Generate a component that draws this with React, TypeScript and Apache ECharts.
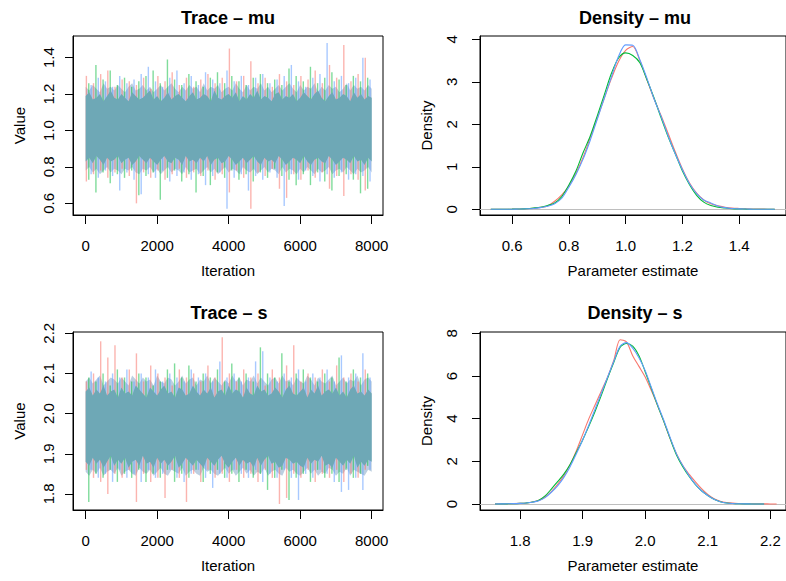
import React, { useEffect, useRef } from 'react';
import * as echarts from 'echarts';

const FONT = '"Liberation Sans", Arial, Helvetica, sans-serif';
const RED = '#F8766D';
const GREEN = '#00BA38';
const BLUE = '#619CFF';
const CHAIN_ALPHA = ['rgba(248,118,109,0.55)', 'rgba(0,186,56,0.5)', 'rgba(97,156,255,0.55)'];
const CORE_COLOR = '#6EA8B6';
const FRINGE_COLOR = 'rgba(122,160,196,0.5)';

// tick labels
const ITER_TICKS = [0, 2000, 4000, 6000, 8000];
const MU_TRACE_TICKS = [0.6, 0.8, 1.0, 1.2, 1.4];
const S_TRACE_TICKS = [1.8, 1.9, 2.0, 2.1, 2.2];
const MU_DENS_X_TICKS = [0.6, 0.8, 1.0, 1.2, 1.4];
const MU_DENS_Y_TICKS = [0, 1, 2, 3, 4];
const S_DENS_X_TICKS = [1.8, 1.9, 2.0, 2.1, 2.2];
const S_DENS_Y_TICKS = [0, 2, 4, 6, 8];

// trace plots: per-chain extremes within each 200-iteration bin
const TRACE_BINS = [0, 200, 400, 600, 800, 1000, 1200, 1400, 1600, 1800, 2000, 2200, 2400, 2600, 2800, 3000, 3200, 3400, 3600, 3800,
  4000, 4200, 4400, 4600, 4800, 5000, 5200, 5400, 5600, 5800, 6000, 6200, 6400, 6600, 6800, 7000, 7200, 7400, 7600, 7800];
const CHAIN_OFFSETS = [20, 87, 153];

const muRedHi = [1.30, 1.26, 1.31, 1.33, 1.24, 1.28, 1.27, 1.25, 1.29, 1.23, 1.30, 1.27, 1.32, 1.25, 1.29, 1.24, 1.28, 1.31, 1.26, 1.29,
  1.45, 1.27, 1.30, 1.38, 1.26, 1.29, 1.24, 1.31, 1.27, 1.25, 1.30, 1.28, 1.33, 1.26, 1.36, 1.29, 1.47, 1.27, 1.31, 1.40];
const muRedLo = [0.72, 0.76, 0.78, 0.74, 0.77, 0.79, 0.75, 0.60, 0.77, 0.74, 0.78, 0.73, 0.76, 0.79, 0.74, 0.77, 0.75, 0.78, 0.73, 0.76,
  0.66, 0.78, 0.74, 0.57, 0.77, 0.75, 0.79, 0.68, 0.63, 0.76, 0.73, 0.78, 0.74, 0.77, 0.68, 0.75, 0.64, 0.76, 0.73, 0.67];
const muGreenHi = [1.26, 1.36, 1.28, 1.33, 1.25, 1.29, 1.24, 1.27, 1.30, 1.33, 1.26, 1.39, 1.28, 1.25, 1.31, 1.27, 1.24, 1.29, 1.32, 1.26,
  1.30, 1.27, 1.25, 1.29, 1.31, 1.26, 1.28, 1.25, 1.34, 1.30, 1.27, 1.35, 1.26, 1.29, 1.32, 1.28, 1.25, 1.30, 1.27, 1.29];
const muGreenLo = [0.73, 0.66, 0.77, 0.71, 0.76, 0.74, 0.78, 0.645, 0.75, 0.77, 0.62, 0.74, 0.78, 0.72, 0.76, 0.66, 0.75, 0.70, 0.77, 0.74,
  0.78, 0.73, 0.76, 0.72, 0.77, 0.74, 0.79, 0.75, 0.73, 0.70, 0.76, 0.70, 0.77, 0.72, 0.67, 0.75, 0.76, 0.73, 0.655, 0.68];
const muBlueHi = [1.25, 1.29, 1.27, 1.24, 1.30, 1.26, 1.28, 1.31, 1.35, 1.27, 1.24, 1.29, 1.33, 1.26, 1.30, 1.25, 1.32, 1.28, 1.26, 1.33,
  1.27, 1.30, 1.25, 1.29, 1.31, 1.26, 1.28, 1.30, 1.36, 1.27, 1.24, 1.29, 1.31, 1.48, 1.27, 1.30, 1.26, 1.29, 1.40, 1.28];
const muBlueLo = [0.76, 0.74, 0.78, 0.75, 0.67, 0.77, 0.73, 0.65, 0.76, 0.74, 0.78, 0.72, 0.75, 0.77, 0.73, 0.76, 0.70, 0.75, 0.77, 0.57,
  0.74, 0.76, 0.67, 0.75, 0.73, 0.77, 0.74, 0.585, 0.76, 0.73, 0.78, 0.75, 0.72, 0.76, 0.74, 0.77, 0.73, 0.76, 0.75, 0.72];

const sRedHi = [2.08, 2.10, 2.18, 2.14, 2.17, 2.09, 2.11, 2.15, 2.08, 2.12, 2.10, 2.09, 2.07, 2.11, 2.09, 2.10, 2.08, 2.12, 2.09, 2.19,
  2.10, 2.08, 2.11, 2.09, 2.10, 2.07, 2.11, 2.09, 2.12, 2.17, 2.08, 2.10, 2.09, 2.11, 2.08, 2.12, 2.09, 2.10, 2.08, 2.11];
const sRedLo = [1.86, 1.84, 1.83, 1.80, 1.85, 1.84, 1.86, 1.78, 1.85, 1.83, 1.84, 1.79, 1.86, 1.84, 1.78, 1.85, 1.83, 1.86, 1.84, 1.85,
  1.83, 1.86, 1.84, 1.85, 1.83, 1.86, 1.84, 1.775, 1.79, 1.85, 1.84, 1.86, 1.83, 1.85, 1.84, 1.86, 1.83, 1.85, 1.84, 1.86];
const sGreenHi = [2.09, 2.08, 2.10, 2.07, 2.11, 2.09, 2.08, 2.10, 2.09, 2.07, 2.08, 2.11, 2.125, 2.09, 2.12, 2.08, 2.10, 2.09, 2.11, 2.08,
  2.125, 2.09, 2.10, 2.08, 2.165, 2.10, 2.09, 2.15, 2.08, 2.10, 2.11, 2.09, 2.08, 2.10, 2.09, 2.14, 2.08, 2.11, 2.09, 2.10];
const sGreenLo = [1.78, 1.85, 1.84, 1.86, 1.83, 1.85, 1.84, 1.86, 1.83, 1.85, 1.84, 1.86, 1.83, 1.85, 1.84, 1.86, 1.83, 1.85, 1.86, 1.84,
  1.85, 1.83, 1.86, 1.84, 1.85, 1.81, 1.84, 1.86, 1.785, 1.84, 1.85, 1.83, 1.86, 1.84, 1.85, 1.83, 1.86, 1.84, 1.85, 1.87];
const sBlueHi = [2.105, 2.09, 2.08, 2.10, 2.09, 2.11, 2.08, 2.10, 2.09, 2.11, 2.08, 2.10, 2.09, 2.08, 2.11, 2.09, 2.10, 2.08, 2.13, 2.09,
  2.10, 2.08, 2.09, 2.13, 2.155, 2.09, 2.08, 2.10, 2.09, 2.11, 2.08, 2.10, 2.09, 2.11, 2.08, 2.145, 2.09, 2.10, 2.15, 2.09];
const sBlueLo = [1.86, 1.84, 1.85, 1.83, 1.86, 1.84, 1.85, 1.83, 1.86, 1.84, 1.85, 1.86, 1.84, 1.83, 1.85, 1.86, 1.84, 1.815, 1.85, 1.84,
  1.86, 1.85, 1.84, 1.86, 1.83, 1.85, 1.84, 1.86, 1.84, 1.785, 1.85, 1.84, 1.86, 1.85, 1.83, 1.805, 1.81, 1.84, 1.81, 1.86];

// dense, fully overlapped core of the traces and the mixed fringe around it (every 100 iterations)
const CORE_ITER = [0, 100, 200, 300, 400, 500, 600, 700, 800, 900, 1000, 1100, 1200, 1300, 1400, 1500, 1600, 1700, 1800, 1900,
  2000, 2100, 2200, 2300, 2400, 2500, 2600, 2700, 2800, 2900, 3000, 3100, 3200, 3300, 3400, 3500, 3600, 3700, 3800, 3900,
  4000, 4100, 4200, 4300, 4400, 4500, 4600, 4700, 4800, 4900, 5000, 5100, 5200, 5300, 5400, 5500, 5600, 5700, 5800, 5900,
  6000, 6100, 6200, 6300, 6400, 6500, 6600, 6700, 6800, 6900, 7000, 7100, 7200, 7300, 7400, 7500, 7600, 7700, 7800, 7900, 8000];
const muCoreHi = [1.19, 1.21, 1.17, 1.18, 1.20, 1.16, 1.19, 1.22, 1.18, 1.17, 1.20, 1.18, 1.16, 1.21, 1.19, 1.17, 1.18, 1.20, 1.22, 1.17,
  1.19, 1.16, 1.18, 1.21, 1.17, 1.19, 1.20, 1.18, 1.16, 1.19, 1.21, 1.17, 1.18, 1.20, 1.19, 1.16, 1.22, 1.18, 1.17, 1.19,
  1.20, 1.18, 1.21, 1.16, 1.19, 1.17, 1.20, 1.18, 1.22, 1.17, 1.19, 1.18, 1.16, 1.20, 1.21, 1.17, 1.19, 1.18, 1.20, 1.16,
  1.18, 1.21, 1.19, 1.17, 1.20, 1.22, 1.18, 1.16, 1.19, 1.21, 1.17, 1.18, 1.20, 1.19, 1.16, 1.21, 1.18, 1.20, 1.17, 1.19, 1.18];
const muCoreLo = [0.83, 0.85, 0.82, 0.86, 0.84, 0.81, 0.85, 0.83, 0.84, 0.86, 0.82, 0.84, 0.85, 0.81, 0.83, 0.86, 0.84, 0.82, 0.85, 0.83,
  0.81, 0.84, 0.86, 0.83, 0.82, 0.85, 0.84, 0.81, 0.86, 0.83, 0.84, 0.82, 0.85, 0.83, 0.86, 0.81, 0.84, 0.85, 0.82, 0.83,
  0.86, 0.84, 0.81, 0.83, 0.85, 0.82, 0.84, 0.86, 0.83, 0.81, 0.85, 0.83, 0.84, 0.82, 0.86, 0.84, 0.81, 0.83, 0.85, 0.84,
  0.82, 0.86, 0.83, 0.81, 0.84, 0.85, 0.83, 0.82, 0.86, 0.84, 0.81, 0.83, 0.85, 0.84, 0.82, 0.86, 0.83, 0.84, 0.81, 0.85, 0.83];
const muFringeHi = [1.24, 1.22, 1.25, 1.23, 1.21, 1.26, 1.23, 1.24, 1.22, 1.25, 1.23, 1.21, 1.24, 1.26, 1.22, 1.23, 1.25, 1.22, 1.24, 1.21,
  1.23, 1.25, 1.22, 1.24, 1.26, 1.23, 1.21, 1.24, 1.22, 1.25, 1.23, 1.24, 1.21, 1.26, 1.22, 1.24, 1.23, 1.25, 1.21, 1.23,
  1.24, 1.22, 1.26, 1.23, 1.21, 1.25, 1.22, 1.24, 1.23, 1.26, 1.22, 1.24, 1.21, 1.23, 1.25, 1.22, 1.24, 1.26, 1.23, 1.21,
  1.25, 1.22, 1.24, 1.23, 1.26, 1.21, 1.24, 1.22, 1.25, 1.23, 1.24, 1.21, 1.23, 1.26, 1.22, 1.25, 1.23, 1.24, 1.22, 1.25, 1.23];
const muFringeLo = [0.78, 0.80, 0.77, 0.79, 0.76, 0.78, 0.80, 0.77, 0.79, 0.78, 0.76, 0.79, 0.78, 0.80, 0.77, 0.76, 0.79, 0.78, 0.80, 0.77,
  0.79, 0.76, 0.78, 0.80, 0.77, 0.79, 0.78, 0.76, 0.80, 0.77, 0.78, 0.79, 0.76, 0.78, 0.80, 0.77, 0.79, 0.76, 0.78, 0.80,
  0.77, 0.79, 0.78, 0.76, 0.80, 0.78, 0.77, 0.79, 0.76, 0.78, 0.80, 0.77, 0.79, 0.78, 0.76, 0.80, 0.77, 0.79, 0.78, 0.76,
  0.79, 0.77, 0.80, 0.78, 0.76, 0.79, 0.77, 0.78, 0.80, 0.76, 0.78, 0.79, 0.77, 0.80, 0.78, 0.76, 0.79, 0.77, 0.78, 0.80, 0.77];
const sCoreHi = [2.055, 2.065, 2.045, 2.06, 2.05, 2.07, 2.045, 2.055, 2.06, 2.04, 2.065, 2.05, 2.055, 2.045, 2.07, 2.06, 2.05, 2.04, 2.065, 2.055,
  2.045, 2.06, 2.07, 2.05, 2.055, 2.04, 2.065, 2.06, 2.045, 2.05, 2.07, 2.055, 2.045, 2.06, 2.05, 2.065, 2.04, 2.055, 2.06, 2.045,
  2.07, 2.05, 2.06, 2.055, 2.04, 2.065, 2.05, 2.045, 2.07, 2.055, 2.06, 2.045, 2.05, 2.065, 2.055, 2.04, 2.06, 2.07, 2.05, 2.045,
  2.055, 2.065, 2.04, 2.06, 2.05, 2.07, 2.045, 2.055, 2.06, 2.05, 2.065, 2.045, 2.055, 2.04, 2.06, 2.07, 2.05, 2.055, 2.045, 2.06, 2.05];
const sCoreLo = [1.88, 1.87, 1.89, 1.875, 1.885, 1.865, 1.88, 1.895, 1.87, 1.885, 1.875, 1.89, 1.865, 1.88, 1.885, 1.87, 1.895, 1.875, 1.88, 1.865,
  1.89, 1.875, 1.885, 1.87, 1.88, 1.895, 1.865, 1.875, 1.89, 1.88, 1.87, 1.885, 1.875, 1.865, 1.89, 1.88, 1.87, 1.885, 1.895, 1.875,
  1.865, 1.88, 1.89, 1.87, 1.885, 1.875, 1.88, 1.865, 1.89, 1.87, 1.885, 1.895, 1.875, 1.88, 1.865, 1.87, 1.89, 1.885, 1.875, 1.88,
  1.87, 1.865, 1.89, 1.875, 1.885, 1.88, 1.895, 1.87, 1.875, 1.865, 1.89, 1.88, 1.87, 1.885, 1.875, 1.895, 1.865, 1.88, 1.87, 1.885, 1.88];
const sFringeHi = [2.08, 2.09, 2.075, 2.085, 2.095, 2.07, 2.08, 2.09, 2.085, 2.075, 2.09, 2.08, 2.07, 2.095, 2.085, 2.075, 2.09, 2.08, 2.085, 2.07,
  2.095, 2.08, 2.075, 2.09, 2.085, 2.07, 2.08, 2.095, 2.075, 2.085, 2.09, 2.07, 2.085, 2.08, 2.095, 2.075, 2.09, 2.08, 2.07, 2.085,
  2.075, 2.095, 2.08, 2.09, 2.07, 2.085, 2.08, 2.095, 2.075, 2.09, 2.08, 2.07, 2.085, 2.09, 2.075, 2.095, 2.08, 2.085, 2.07, 2.09,
  2.08, 2.075, 2.095, 2.085, 2.07, 2.09, 2.08, 2.075, 2.085, 2.095, 2.07, 2.08, 2.09, 2.075, 2.085, 2.08, 2.095, 2.07, 2.085, 2.09, 2.08];
const sFringeLo = [1.855, 1.845, 1.86, 1.85, 1.865, 1.845, 1.855, 1.86, 1.85, 1.865, 1.845, 1.855, 1.86, 1.85, 1.845, 1.865, 1.855, 1.85, 1.86, 1.845,
  1.855, 1.865, 1.85, 1.845, 1.86, 1.855, 1.85, 1.865, 1.845, 1.855, 1.86, 1.85, 1.845, 1.865, 1.855, 1.86, 1.85, 1.845, 1.855, 1.865,
  1.85, 1.86, 1.845, 1.855, 1.865, 1.85, 1.86, 1.845, 1.855, 1.85, 1.865, 1.845, 1.855, 1.86, 1.85, 1.845, 1.865, 1.855, 1.86, 1.85,
  1.845, 1.855, 1.865, 1.85, 1.86, 1.845, 1.855, 1.85, 1.865, 1.86, 1.845, 1.855, 1.85, 1.865, 1.845, 1.86, 1.855, 1.85, 1.845, 1.86, 1.855];

// density curves
const DENS_MU_X = [0.525, 0.55, 0.575, 0.6, 0.625, 0.65, 0.675, 0.7, 0.725, 0.75, 0.775, 0.8, 0.825, 0.85, 0.875, 0.9, 0.925, 0.95, 0.975, 1.0,
  1.025, 1.05, 1.075, 1.1, 1.125, 1.15, 1.175, 1.2, 1.225, 1.25, 1.275, 1.3, 1.325, 1.35, 1.375, 1.4, 1.425, 1.45, 1.475, 1.5, 1.525];
const densMuRed = [0, 0.001, 0.002, 0.004, 0.008, 0.014, 0.025, 0.045, 0.08, 0.19, 0.34, 0.55, 0.85, 1.22, 1.68, 2.14, 2.62, 3.08, 3.48, 3.74,
  3.83, 3.5, 3.05, 2.6, 2.2, 1.78, 1.35, 0.95, 0.62, 0.38, 0.22, 0.13, 0.08, 0.05, 0.03, 0.02, 0.012, 0.008, 0.005, 0.003, 0.002];
const densMuGreen = [0, 0.001, 0.002, 0.004, 0.008, 0.015, 0.03, 0.05, 0.09, 0.15, 0.3, 0.57, 0.9, 1.33, 1.72, 2.2, 2.7, 3.2, 3.56, 3.68,
  3.62, 3.45, 3.05, 2.62, 2.15, 1.7, 1.3, 0.9, 0.58, 0.33, 0.17, 0.09, 0.05, 0.03, 0.015, 0.008, 0.004, 0.002, 0.001, 0, 0];
const densMuBlue = [0, 0.001, 0.002, 0.003, 0.006, 0.012, 0.02, 0.04, 0.07, 0.13, 0.26, 0.52, 0.82, 1.18, 1.62, 2.12, 2.62, 3.12, 3.6, 3.87,
  3.86, 3.52, 3.08, 2.6, 2.18, 1.72, 1.3, 0.93, 0.6, 0.37, 0.22, 0.15, 0.08, 0.04, 0.02, 0.01, 0.006, 0.003, 0.002, 0.001, 0];

const DENS_S_X = [1.76, 1.77, 1.78, 1.79, 1.80, 1.81, 1.82, 1.83, 1.84, 1.85, 1.86, 1.87, 1.88, 1.89, 1.90, 1.91, 1.92, 1.93, 1.94, 1.95,
  1.96, 1.97, 1.98, 1.99, 2.00, 2.01, 2.02, 2.03, 2.04, 2.05, 2.06, 2.07, 2.08, 2.09, 2.10, 2.11, 2.12, 2.13, 2.14, 2.15,
  2.16, 2.17, 2.18, 2.19, 2.20, 2.21];
const densSRed = [0.005, 0.007, 0.01, 0.018, 0.03, 0.05, 0.09, 0.17, 0.33, 0.58, 0.92, 1.33, 1.85, 2.5, 3.25, 4.0, 4.65, 5.3, 5.95, 6.75,
  7.7, 7.6, 6.95, 6.45, 5.95, 5.3, 4.6, 3.85, 3.05, 2.35, 1.8, 1.4, 1.05, 0.72, 0.45, 0.25, 0.13, 0.07, 0.04, 0.025,
  0.015, 0.01, 0.007, 0.005, 0.003, 0.001];
const densSGreen = [0.002, 0.004, 0.008, 0.015, 0.03, 0.05, 0.09, 0.18, 0.38, 0.7, 1.05, 1.4, 1.85, 2.42, 3.0, 3.65, 4.35, 5.1, 5.9, 6.65,
  7.35, 7.52, 7.4, 6.95, 6.2, 5.4, 4.6, 3.85, 3.05, 2.3, 1.75, 1.3, 0.92, 0.62, 0.4, 0.22, 0.11, 0.05, 0.025, 0.012,
  0.006, 0.003, 0.001, 0, null, null];
const densSBlue = [0.003, 0.005, 0.009, 0.016, 0.03, 0.05, 0.085, 0.15, 0.3, 0.55, 0.85, 1.25, 1.75, 2.35, 3.0, 3.7, 4.45, 5.2, 5.95, 6.7,
  7.4, 7.56, 7.3, 6.85, 6.25, 5.45, 4.65, 3.9, 3.1, 2.35, 1.8, 1.33, 0.93, 0.62, 0.4, 0.22, 0.11, 0.05, 0.025, 0.012,
  0.006, 0.003, 0.001, 0, null, null];

const labelStyle = { fontFamily: FONT, fontSize: 15, color: '#000' };

function xAxisDef(gridIndex: number, min: number, max: number, ticks: number[], name: string, decimals: number) {
  return {
    type: 'value', gridIndex, min, max,
    name, nameLocation: 'middle', nameGap: 48,
    nameTextStyle: { fontFamily: FONT, fontSize: 15, color: '#000' },
    axisLine: { show: true, onZero: false, lineStyle: { color: '#000', width: 1 } },
    axisTick: { show: true, inside: false, length: 9, customValues: ticks, lineStyle: { color: '#000', width: 1 } },
    axisLabel: { ...labelStyle, margin: 23, customValues: ticks, formatter: (v: number) => v.toFixed(decimals) },
    splitLine: { show: false },
  };
}

function yAxisDef(gridIndex: number, min: number, max: number, ticks: number[], name: string, decimals: number, margin: number) {
  return {
    type: 'value', gridIndex, min, max,
    name, nameLocation: 'middle', nameGap: 46, nameRotate: 90,
    nameTextStyle: { fontFamily: FONT, fontSize: 15, color: '#000' },
    axisLine: { show: true, onZero: false, lineStyle: { color: '#000', width: 1 } },
    axisTick: { show: true, inside: false, length: 8, customValues: ticks, lineStyle: { color: '#000', width: 1 } },
    axisLabel: { ...labelStyle, margin, rotate: 90, customValues: ticks, formatter: (v: number) => v.toFixed(decimals) },
    splitLine: { show: false },
  };
}

function chainSeries(idx: number, chain: number, lo: number[], hi: number[]) {
  const color = CHAIN_ALPHA[chain];
  return {
    type: 'custom', xAxisIndex: idx, yAxisIndex: idx, z: 2, clip: true, silent: true,
    data: TRACE_BINS.map((b, i) => [b + CHAIN_OFFSETS[chain], lo[i], hi[i]]),
    encode: { x: 0, y: [1, 2] },
    renderItem: (params: any, api: any) => {
      const x = api.value(0);
      const p1 = api.coord([x, api.value(1)]);
      const p2 = api.coord([x, api.value(2)]);
      return {
        type: 'line',
        shape: { x1: p1[0], y1: p1[1], x2: p2[0], y2: p2[1] },
        style: { stroke: color, lineWidth: 1.4 },
      };
    },
  };
}

function bandSeries(idx: number, lo: number[], hi: number[], fill: string, z: number) {
  return {
    type: 'custom', xAxisIndex: idx, yAxisIndex: idx, z, clip: true, silent: true,
    data: CORE_ITER.map((it, i) => [it, lo[i], hi[i]]),
    encode: { x: 0, y: [1, 2] },
    renderItem: (params: any, api: any) => {
      if (params.dataIndex !== 0) return null;
      const top = CORE_ITER.map((it, i) => api.coord([it, hi[i]]));
      const bot = CORE_ITER.map((it, i) => api.coord([it, lo[i]])).reverse();
      return { type: 'polygon', shape: { points: top.concat(bot) }, style: { fill } };
    },
  };
}

function densitySeries(idx: number, xs: number[], ys: (number | null)[], color: string, withZero: boolean) {
  const data: number[][] = [];
  xs.forEach((x, i) => { const y = ys[i]; if (y !== null && y !== undefined) data.push([x, y]); });
  const s: any = {
    type: 'line', xAxisIndex: idx, yAxisIndex: idx, data, smooth: 0.3, showSymbol: false, symbol: 'none',
    lineStyle: { color, width: 1.1 }, z: 3, silent: true,
  };
  if (withZero) {
    s.markLine = {
      silent: true, symbol: ['none', 'none'], label: { show: false },
      lineStyle: { color: '#BEBEBE', width: 1, type: 'solid' },
      data: [{ yAxis: 0 }], z: 1,
    };
  }
  return s;
}

function title(text: string, x: number, y: number) {
  return {
    type: 'text', x, y,
    style: { text, fontFamily: FONT, fontSize: 18, fontWeight: 'bold', fill: '#000', align: 'center', verticalAlign: 'middle' },
  };
}

export default function App() {
  const ref = useRef<HTMLDivElement>(null);
  useEffect(() => {
    if (!ref.current) return;
    const chart = echarts.init(ref.current, undefined, { renderer: 'svg' });
    const gridStyle = { show: true, borderColor: '#000', borderWidth: 1, backgroundColor: 'transparent' };
    chart.setOption({
      animation: false,
      backgroundColor: '#fff',
      grid: [
        { left: 73, top: 36, width: 310, height: 179, ...gridStyle },
        { left: 480, top: 36, width: 312, height: 179, ...gridStyle },
        { left: 73, top: 332, width: 310, height: 178, ...gridStyle },
        { left: 480, top: 332, width: 316, height: 178, ...gridStyle },
      ],
      xAxis: [
        xAxisDef(0, -354, 8316, ITER_TICKS, 'Iteration', 0),
        xAxisDef(1, 0.487, 1.5647, MU_DENS_X_TICKS, 'Parameter estimate', 1),
        xAxisDef(2, -354, 8316, ITER_TICKS, 'Iteration', 0),
        xAxisDef(3, 1.736, 2.225, S_DENS_X_TICKS, 'Parameter estimate', 1),
      ],
      yAxis: [
        yAxisDef(0, 0.536, 1.519, MU_TRACE_TICKS, 'Value', 1, 17),
        yAxisDef(1, -0.134, 4.078, MU_DENS_Y_TICKS, 'Density', 0, 21),
        yAxisDef(2, 1.76, 2.2032, S_TRACE_TICKS, 'Value', 1, 17),
        yAxisDef(3, -0.281, 8.06, S_DENS_Y_TICKS, 'Density', 0, 21),
      ],
      graphic: [
        title('Trace \u2013 mu', 228, 18),
        title('Density \u2013 mu', 635, 18),
        title('Trace \u2013 s', 229, 313),
        title('Density \u2013 s', 635, 313),
      ],
      series: [
        bandSeries(0, muFringeLo, muFringeHi, FRINGE_COLOR, 1),
        chainSeries(0, 0, muRedLo, muRedHi),
        chainSeries(0, 1, muGreenLo, muGreenHi),
        chainSeries(0, 2, muBlueLo, muBlueHi),
        bandSeries(0, muCoreLo, muCoreHi, CORE_COLOR, 3),
        densitySeries(1, DENS_MU_X, densMuRed, RED, true),
        densitySeries(1, DENS_MU_X, densMuGreen, GREEN, false),
        densitySeries(1, DENS_MU_X, densMuBlue, BLUE, false),
        bandSeries(2, sFringeLo, sFringeHi, FRINGE_COLOR, 1),
        chainSeries(2, 0, sRedLo, sRedHi),
        chainSeries(2, 1, sGreenLo, sGreenHi),
        chainSeries(2, 2, sBlueLo, sBlueHi),
        bandSeries(2, sCoreLo, sCoreHi, CORE_COLOR, 3),
        densitySeries(3, DENS_S_X, densSRed, RED, true),
        densitySeries(3, DENS_S_X, densSGreen, GREEN, false),
        densitySeries(3, DENS_S_X, densSBlue, BLUE, false),
      ],
    });
    return () => chart.dispose();
  }, []);
  return (
    <div
      ref={ref}
      style={{ position: 'fixed', left: 0, top: 0, width: 786, height: 581, background: '#fff' }}
    />
  );
}
